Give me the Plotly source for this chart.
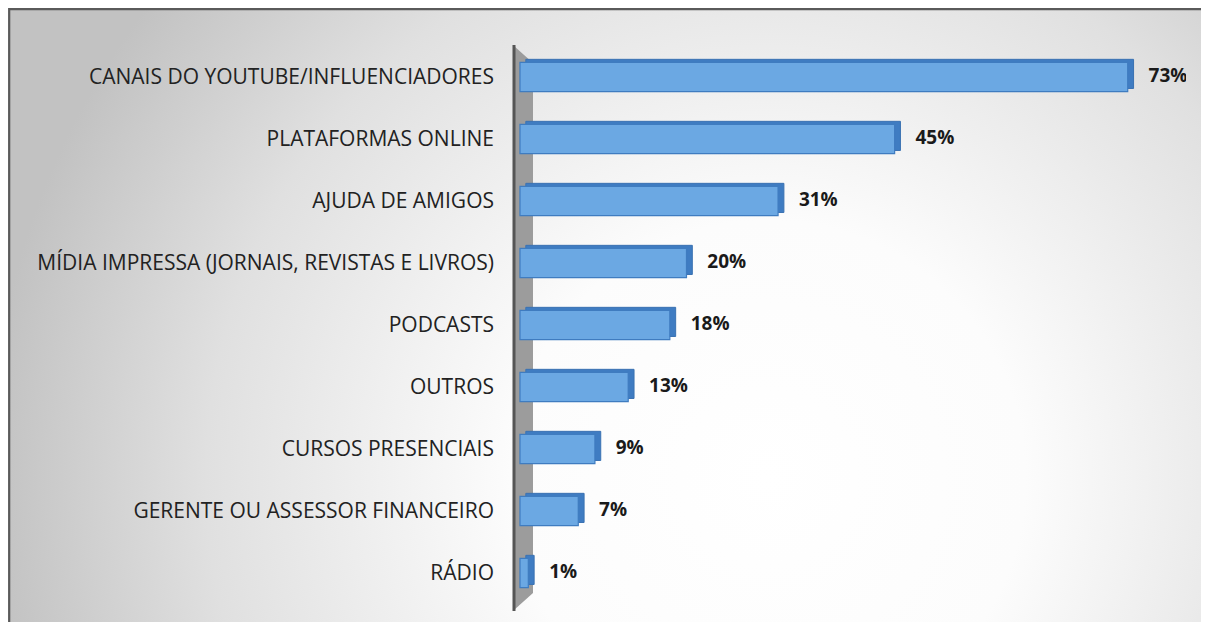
import plotly.graph_objects as go
import base64

categories = [
    "CANAIS DO YOUTUBE/INFLUENCIADORES",
    "PLATAFORMAS ONLINE",
    "AJUDA DE AMIGOS",
    "MÍDIA IMPRESSA (JORNAIS, REVISTAS E LIVROS)",
    "PODCASTS",
    "OUTROS",
    "CURSOS PRESENCIAIS",
    "GERENTE OU ASSESSOR FINANCEIRO",
    "RÁDIO",
]
values = [73, 45, 31, 20, 18, 13, 9, 7, 1]
value_labels = ["73%", "45%", "31%", "20%", "18%", "13%", "9%", "7%", "1%"]

# figure fits the 1209x622 window inside the 8px body margin
W, H = 1201, 614
ML, MR, MT, MB = 502, 23, 38, 18
PW, PH = W - ML - MR, H - MT - MB

DEPTH = 0.7      # 3D depth of bars in x units
LIFT = 0.05      # 3D lift of bars in category units
BAR_W = 0.47


def px(x):
    return (x - ML) / PW


def py(y):
    return 1 - (y - MT) / PH


svg = f"""<svg xmlns='http://www.w3.org/2000/svg' width='{W}' height='{H}'>
<defs><radialGradient id='g' cx='760' cy='470' r='780' gradientUnits='userSpaceOnUse'>
<stop offset='0' stop-color='#ffffff'/><stop offset='0.33' stop-color='#fcfcfc'/>
<stop offset='0.72' stop-color='#e0e0e0'/><stop offset='1' stop-color='#c2c2c2'/>
</radialGradient></defs>
<rect x='0' y='0' width='{W}' height='{H}' fill='url(#g)'/>
</svg>"""
src = "data:image/svg+xml;base64," + base64.b64encode(svg.encode()).decode()

fig = go.Figure()
# back (depth) faces of the 3D bars
fig.add_trace(go.Bar(
    y=categories, x=values, base=DEPTH, orientation="h",
    width=BAR_W, offset=-BAR_W / 2 - LIFT,
    marker=dict(color="#3f7cc2", line=dict(color="#3a72b2", width=1)),
    hoverinfo="skip",
))
# front faces
fig.add_trace(go.Bar(
    y=categories, x=values, base=0, orientation="h",
    width=BAR_W, offset=-BAR_W / 2,
    marker=dict(color="#6ba8e3", line=dict(color="#3f7cc0", width=1.2)),
    hoverinfo="skip",
))
fig.add_trace(go.Scatter(
    y=categories, x=[v + DEPTH + 1.8 for v in values], mode="text",
    text=value_labels, textposition="middle right",
    textfont=dict(family="Open Sans", size=19, color="#1a1a1a", weight="bold"),
    hoverinfo="skip",
))

shapes = [
    # 3D wall next to the axis
    dict(type="path", xref="paper", yref="paper", layer="below",
         path=f"M {px(506)} {py(38)} L {px(525)} {py(55)} L {px(525)} {py(585)} L {px(506)} {py(602)} Z",
         fillcolor="#9c9c9c", line=dict(width=0)),
    dict(type="line", xref="paper", yref="paper", layer="below",
         x0=px(506), x1=px(506), y0=py(37), y1=py(603),
         line=dict(color="#555555", width=3)),
    # frame: left and top edges (others lie outside the window)
    dict(type="path", xref="paper", yref="paper",
         path=f"M {px(1.2)} {py(640)} L {px(1.2)} {py(1.2)} L {px(1220)} {py(1.2)}",
         line=dict(color="#5a5a5a", width=2.2)),
]

fig.update_layout(
    width=W, height=H,
    margin=dict(l=ML, r=MR, t=MT, b=MB),
    paper_bgcolor="white", plot_bgcolor="rgba(0,0,0,0)",
    showlegend=False, barmode="overlay",
    images=[dict(source=src, xref="paper", yref="paper",
                 x=px(0), y=py(0), sizex=W / PW, sizey=H / PH,
                 xanchor="left", yanchor="top", sizing="stretch", layer="below")],
    shapes=shapes,
    xaxis=dict(range=[-1.2, 80], visible=False, fixedrange=True),
    yaxis=dict(categoryorder="array", categoryarray=categories, autorange="reversed",
               showgrid=False, zeroline=False, showline=False, ticks="",
               ticklabelstandoff=15,
               tickfont=dict(family="Open Sans", size=21, color="#222222")),
)

fig.write_html("out.html")
